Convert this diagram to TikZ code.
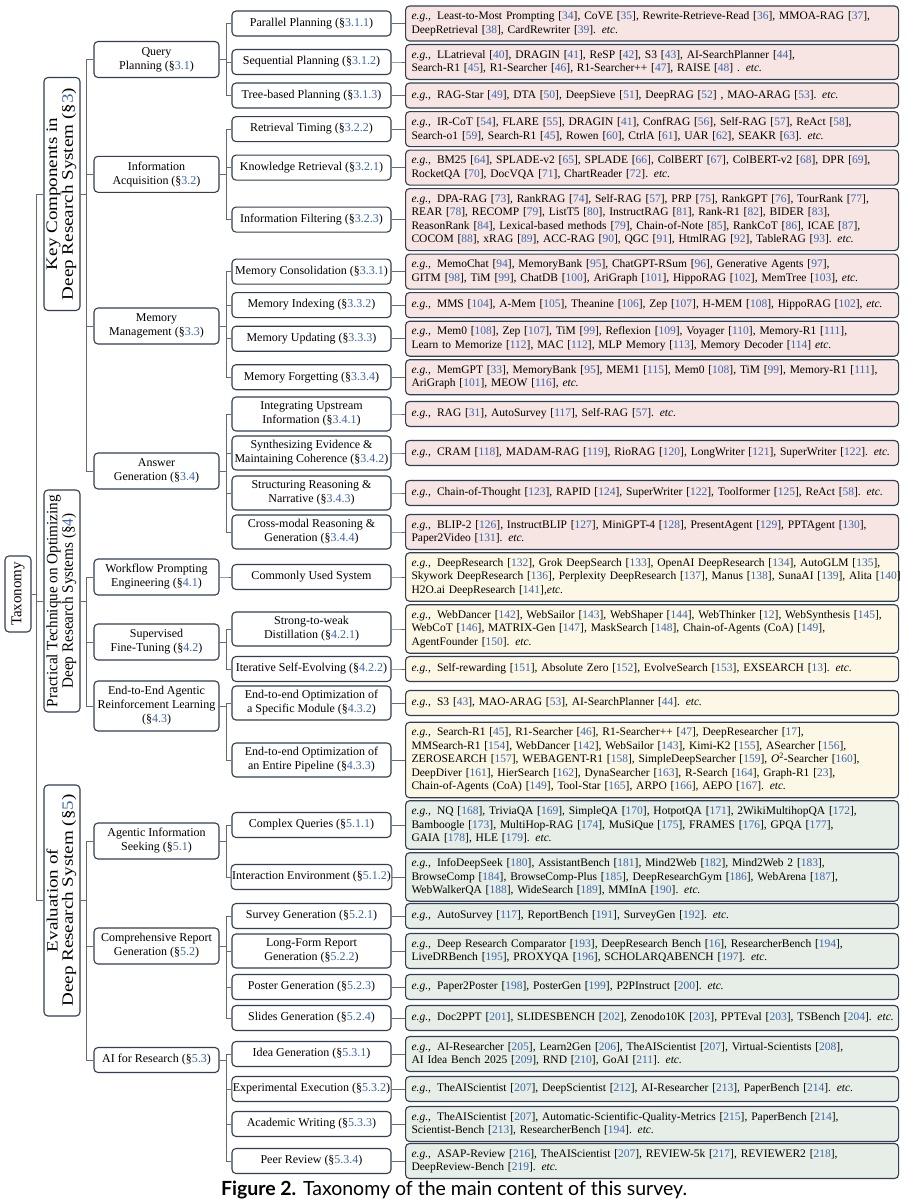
\documentclass[tikz,border=0pt]{standalone}
\usepackage{graphicx}
\usepackage{fontspec}
\setmainfont{Liberation Serif}
\newfontfamily\capfont{Lato}
\definecolor{refblue}{RGB}{58,102,170}
\definecolor{bordc}{RGB}{52,62,82}
\definecolor{linec}{RGB}{105,105,105}
\definecolor{pinkf}{RGB}{246,229,227}
\definecolor{yellf}{RGB}{253,247,230}
\definecolor{greenf}{RGB}{231,238,231}
\newcommand\rf[1]{[\textcolor{refblue}{#1}]}
\newcommand\sct[1]{(\S\textcolor{refblue}{#1})}
\newcommand\eg{\textit{e.g.,}\hspace{6pt}}
\newcommand\etcx{\textit{etc.}}
\newcommand\lne[1]{\makebox[0pt][l]{#1}}
\newcommand\vlab[2]{\resizebox*{212pt}{31pt}{\renewcommand\arraystretch{0.82}\begin{tabular}{@{}c@{}}#1\\#2\end{tabular}}}
\begin{document}
\begin{tikzpicture}[x=1pt,y=-1pt,
 box/.style={draw=bordc, line width=1.1pt, rounded corners=4pt, fill=white, inner ysep=0pt, font=\fontsize{12}{14}\selectfont},
 lone/.style={box, rotate=90, minimum height=36pt, inner xsep=1pt, align=center},
 ltwo/.style={box, minimum width=125pt, minimum height=36pt, inner xsep=2pt, align=center},
 lthree/.style={box, minimum width=159pt, minimum height=25pt, inner xsep=1pt, align=center},
 lthreeb/.style={lthree, minimum height=34pt},
 leaf/.style={box, anchor=west, text width=481pt, inner xsep=6pt, align=left, font=\fontsize{11.5}{13.5}\selectfont},
 pk/.style={leaf, fill=pinkf}, yl/.style={leaf, fill=yellf}, gr/.style={leaf, fill=greenf},
 conn/.style={draw=linec, line width=1pt}
]
\fill[white] (0,0) rectangle (909,1200);
\useasboundingbox (0,0) rectangle (909,1200);

% root and level 1
\node[box, rotate=90, minimum width=76pt, minimum height=26pt, inner xsep=1pt, font=\fontsize{15}{17}\selectfont] (root) at (18,594) {Taxonomy};
\node[lone, minimum width=233pt] (k1) at (62,194) {\vlab{Key Components in}{Deep Research System \sct{3}}};
\node[lone, minimum width=222pt] (k2) at (62,601) {\vlab{Practical Technique on Optimizing}{Deep Research Systems \sct{4}}};
\node[lone, minimum width=231pt] (k3) at (62,900.5) {\vlab{Evaluation of}{Deep Research System \sct{5}}};

% level 2
\node[ltwo] (a1) at (156.5,59.5) {Query\\Planning \sct{3.1}};
\node[ltwo] (a2) at (156.5,174.3) {Information\\Acquisition \sct{3.2}};
\node[ltwo] (a3) at (156.5,326) {Memory\\Management \sct{3.3}};
\node[ltwo] (a4) at (156.5,471) {Answer\\Generation \sct{3.4}};
\node[ltwo] (b1) at (156.5,577) {Workflow Prompting\\Engineering \sct{4.1}};
\node[ltwo] (b2) at (156.5,642) {Supervised\\Fine-Tuning \sct{4.2}};
\node[ltwo, minimum height=50pt] (b3) at (156.5,706) {End-to-End Agentic\\Reinforcement Learning\\\sct{4.3}};
\node[ltwo] (c1) at (156.5,841) {Agentic Information\\Seeking \sct{5.1}};
\node[ltwo] (c2) at (156.5,946) {Comprehensive Report\\Generation \sct{5.2}};
\node[ltwo, minimum height=25pt] (c3) at (156.5,1060) {AI for Research \sct{5.3}};

% level 3
\node[lthree] (r1) at (311.5,23.5) {Parallel Planning \sct{3.1.1}};
\node[lthree] (r2) at (311.5,62.0) {Sequential Planning \sct{3.1.2}};
\node[lthree] (r3) at (311.5,95.5) {Tree-based Planning \sct{3.1.3}};
\node[lthree] (r4) at (311.5,129.1) {Retrieval Timing \sct{3.2.2}};
\node[lthree] (r5) at (311.5,167.6) {Knowledge Retrieval \sct{3.2.1}};
\node[lthree] (r6) at (311.5,219.6) {Information Filtering \sct{3.2.3}};
\node[lthree] (r7) at (311.5,271.6) {Memory Consolidation \sct{3.3.1}};
\node[lthree] (r8) at (311.5,305.1) {Memory Indexing \sct{3.3.2}};
\node[lthree] (r9) at (311.5,338.7) {Memory Updating \sct{3.3.3}};
\node[lthree] (r10) at (311.5,377.2) {Memory Forgetting \sct{3.3.4}};
\node[lthreeb] (r11) at (311.5,414) {Integrating Upstream\\Information \sct{3.4.1}};
\node[lthreeb] (r12) at (311.5,453) {Synthesizing Evidence \&\\Maintaining Coherence \sct{3.4.2}};
\node[lthreeb] (r13) at (311.5,493) {Structuring Reasoning \&\\Narrative \sct{3.4.3}};
\node[lthreeb] (r14) at (311.5,532) {Cross-modal Reasoning \&\\Generation \sct{3.4.4}};
\node[lthree] (r15) at (311.5,577) {Commonly Used System};
\node[lthreeb] (r16) at (311.5,629) {Strong-to-weak\\Distillation \sct{4.2.1}};
\node[lthree] (r17) at (311.5,669) {Iterative Self-Evolving \sct{4.2.2}};
\node[lthreeb] (r18) at (311.5,703) {End-to-end Optimization of\\a Specific Module \sct{4.3.2}};
\node[lthreeb] (r19) at (311.5,760) {End-to-end Optimization of\\an Entire Pipeline \sct{4.3.3}};
\node[lthree] (r20) at (311.5,825) {Complex Queries \sct{5.1.1}};
\node[lthree] (r21) at (311.5,877) {Interaction Environment \sct{5.1.2}};
\node[lthree] (r22) at (311.5,916) {Survey Generation \sct{5.2.1}};
\node[lthreeb] (r23) at (311.5,951) {Long-Form Report\\Generation \sct{5.2.2}};
\node[lthree] (r24) at (311.5,987) {Poster Generation \sct{5.2.3}};
\node[lthree] (r25) at (311.5,1018) {Slides Generation \sct{5.2.4}};
\node[lthree] (r26) at (311.5,1054) {Idea Generation \sct{5.3.1}};
\node[lthree] (r27) at (311.5,1089) {Experimental Execution \sct{5.3.2}};
\node[lthree] (r28) at (311.5,1124) {Academic Writing \sct{5.3.3}};
\node[lthree] (r29) at (311.5,1161) {Peer Review \sct{5.3.4}};

% leaves
\node[pk, minimum height=35pt] (e1) at (405,23.5) {\lne{\eg Least-to-Most Prompting \rf{34}, CoVE \rf{35}, Rewrite-Retrieve-Read \rf{36}, MMOA-RAG \rf{37},}\\\lne{DeepRetrieval \rf{38}, CardRewriter \rf{39}. \etcx}};
\node[pk, minimum height=35pt] (e2) at (405,62.0) {\lne{\eg LLatrieval \rf{40}, DRAGIN \rf{41}, ReSP \rf{42}, S3 \rf{43}, AI-SearchPlanner \rf{44},}\\\lne{Search-R1 \rf{45}, R1-Searcher \rf{46}, R1-Searcher++ \rf{47}, RAISE \rf{48} . \etcx}};
\node[pk, minimum height=25pt] (e3) at (405,95.5) {\lne{\eg RAG-Star \rf{49}, DTA \rf{50}, DeepSieve \rf{51}, DeepRAG \rf{52} , MAO-ARAG \rf{53}. \etcx}};
\node[pk, minimum height=35pt] (e4) at (405,129.1) {\lne{\eg IR-CoT \rf{54}, FLARE \rf{55}, DRAGIN \rf{41}, ConfRAG \rf{56}, Self-RAG \rf{57}, ReAct \rf{58},}\\\lne{Search-o1 \rf{59}, Search-R1 \rf{45}, Rowen \rf{60}, CtrlA \rf{61}, UAR \rf{62}, SEAKR \rf{63}. \etcx}};
\node[pk, minimum height=35pt] (e5) at (405,167.6) {\lne{\eg BM25 \rf{64}, SPLADE-v2 \rf{65}, SPLADE \rf{66}, ColBERT \rf{67}, ColBERT-v2 \rf{68}, DPR \rf{69},}\\\lne{RocketQA \rf{70}, DocVQA \rf{71}, ChartReader \rf{72}. \etcx}};
\node[pk, minimum height=62pt] (e6) at (405,219.6) {\lne{\eg DPA-RAG \rf{73}, RankRAG \rf{74}, Self-RAG \rf{57}, PRP \rf{75}, RankGPT \rf{76}, TourRank \rf{77},}\\\lne{REAR \rf{78}, RECOMP \rf{79}, ListT5 \rf{80}, InstructRAG \rf{81}, Rank-R1 \rf{82}, BIDER \rf{83},}\\\lne{ReasonRank \rf{84}, Lexical-based methods \rf{79}, Chain-of-Note \rf{85}, RankCoT \rf{86}, ICAE \rf{87},}\\\lne{COCOM \rf{88}, xRAG \rf{89}, ACC-RAG \rf{90}, QGC \rf{91}, HtmlRAG \rf{92}, TableRAG \rf{93}. \etcx}};
\node[pk, minimum height=35pt] (e7) at (405,271.6) {\lne{\eg MemoChat \rf{94}, MemoryBank \rf{95}, ChatGPT-RSum \rf{96}, Generative Agents \rf{97},}\\\lne{GITM \rf{98}, TiM \rf{99}, ChatDB \rf{100}, AriGraph \rf{101}, HippoRAG \rf{102}, MemTree \rf{103}, \etcx}};
\node[pk, minimum height=25pt] (e8) at (405,305.1) {\lne{\eg MMS \rf{104}, A-Mem \rf{105}, Theanine \rf{106}, Zep \rf{107}, H-MEM \rf{108}, HippoRAG \rf{102}, \etcx}};
\node[pk, minimum height=35pt] (e9) at (405,338.7) {\lne{\eg Mem0 \rf{108}, Zep \rf{107}, TiM \rf{99}, Reflexion \rf{109}, Voyager \rf{110}, Memory-R1 \rf{111},}\\\lne{Learn to Memorize \rf{112}, MAC \rf{112}, MLP Memory \rf{113}, Memory Decoder \rf{114} \etcx}};
\node[pk, minimum height=35pt] (e10) at (405,377.2) {\lne{\eg MemGPT \rf{33}, MemoryBank \rf{95}, MEM1 \rf{115}, Mem0 \rf{108}, TiM \rf{99}, Memory-R1 \rf{111},}\\\lne{AriGraph \rf{101}, MEOW \rf{116}, \etcx}};
\node[pk, minimum height=25pt] (e11) at (405,414) {\lne{\eg RAG \rf{31}, AutoSurvey \rf{117}, Self-RAG \rf{57}. \etcx}};
\node[pk, minimum height=25pt] (e12) at (405,453) {\lne{\eg CRAM \rf{118}, MADAM-RAG \rf{119}, RioRAG \rf{120}, LongWriter \rf{121}, SuperWriter \rf{122}. \etcx}};
\node[pk, minimum height=25pt] (e13) at (405,493) {\lne{\eg Chain-of-Thought \rf{123}, RAPID \rf{124}, SuperWriter \rf{122}, Toolformer \rf{125}, ReAct \rf{58}. \etcx}};
\node[pk, minimum height=35pt] (e14) at (405,532) {\lne{\eg BLIP-2 \rf{126}, InstructBLIP \rf{127}, MiniGPT-4 \rf{128}, PresentAgent \rf{129}, PPTAgent \rf{130},}\\\lne{Paper2Video \rf{131}. \etcx}};
\node[yl, minimum height=48.5pt] (e15) at (405,577) {\lne{\eg DeepResearch \rf{132}, Grok DeepSearch \rf{133}, OpenAI DeepResearch \rf{134}, AutoGLM \rf{135},}\\\lne{Skywork DeepResearch \rf{136}, Perplexity DeepResearch \rf{137}, Manus \rf{138}, SunaAI \rf{139}, Alita \rf{140}}\\\lne{H2O.ai DeepResearch \rf{141},\etcx}};
\node[yl, minimum height=48.5pt] (e16) at (405,629) {\lne{\eg WebDancer \rf{142}, WebSailor \rf{143}, WebShaper \rf{144}, WebThinker \rf{12}, WebSynthesis \rf{145},}\\\lne{WebCoT \rf{146}, MATRIX-Gen \rf{147}, MaskSearch \rf{148}, Chain-of-Agents (CoA) \rf{149},}\\\lne{AgentFounder \rf{150}. \etcx}};
\node[yl, minimum height=25pt] (e17) at (405,669) {\lne{\eg Self-rewarding \rf{151}, Absolute Zero \rf{152}, EvolveSearch \rf{153}, EXSEARCH \rf{13}. \etcx}};
\node[yl, minimum height=25pt] (e18) at (405,703) {\lne{\eg S3 \rf{43}, MAO-ARAG \rf{53}, AI-SearchPlanner \rf{44}. \etcx}};
\node[yl, minimum height=75.5pt] (e19) at (405,760) {\lne{\eg Search-R1 \rf{45}, R1-Searcher \rf{46}, R1-Searcher++ \rf{47}, DeepResearcher \rf{17},}\\\lne{MMSearch-R1 \rf{154}, WebDancer \rf{142}, WebSailor \rf{143}, Kimi-K2 \rf{155}, ASearcher \rf{156},}\\\lne{ZEROSEARCH \rf{157}, WEBAGENT-R1 \rf{158}, SimpleDeepSearcher \rf{159}, \textit{O}\textsuperscript{2}-Searcher \rf{160},}\\\lne{DeepDiver \rf{161}, HierSearch \rf{162}, DynaSearcher \rf{163}, R-Search \rf{164}, Graph-R1 \rf{23},}\\\lne{Chain-of-Agents (CoA) \rf{149}, Tool-Star \rf{165}, ARPO \rf{166}, AEPO \rf{167}. \etcx}};
\node[gr, minimum height=48.5pt] (e20) at (405,825) {\lne{\eg NQ \rf{168}, TriviaQA \rf{169}, SimpleQA \rf{170}, HotpotQA \rf{171}, 2WikiMultihopQA \rf{172},}\\\lne{Bamboogle \rf{173}, MultiHop-RAG \rf{174}, MuSiQue \rf{175}, FRAMES \rf{176}, GPQA \rf{177},}\\\lne{GAIA \rf{178}, HLE \rf{179}. \etcx}};
\node[gr, minimum height=48.5pt] (e21) at (405,877) {\lne{\eg InfoDeepSeek \rf{180}, AssistantBench \rf{181}, Mind2Web \rf{182}, Mind2Web 2 \rf{183},}\\\lne{BrowseComp \rf{184}, BrowseComp-Plus \rf{185}, DeepResearchGym \rf{186}, WebArena \rf{187},}\\\lne{WebWalkerQA \rf{188}, WideSearch \rf{189}, MMInA \rf{190}. \etcx}};
\node[gr, minimum height=25pt] (e22) at (405,916) {\lne{\eg AutoSurvey \rf{117}, ReportBench \rf{191}, SurveyGen \rf{192}. \etcx}};
\node[gr, minimum height=35pt] (e23) at (405,951) {\lne{\eg Deep Research Comparator \rf{193}, DeepResearch Bench \rf{16}, ResearcherBench \rf{194},}\\\lne{LiveDRBench \rf{195}, PROXYQA \rf{196}, SCHOLARQABENCH \rf{197}. \etcx}};
\node[gr, minimum height=25pt] (e24) at (405,987) {\lne{\eg Paper2Poster \rf{198}, PosterGen \rf{199}, P2PInstruct \rf{200}. \etcx}};
\node[gr, minimum height=25pt] (e25) at (405,1018) {\lne{\eg Doc2PPT \rf{201}, SLIDESBENCH \rf{202}, Zenodo10K \rf{203}, PPTEval \rf{203}, TSBench \rf{204}. \etcx}};
\node[gr, minimum height=35pt] (e26) at (405,1054) {\lne{\eg AI-Researcher \rf{205}, Learn2Gen \rf{206}, TheAIScientist \rf{207}, Virtual-Scientists \rf{208},}\\\lne{AI Idea Bench 2025 \rf{209}, RND \rf{210}, GoAI \rf{211}. \etcx}};
\node[gr, minimum height=25pt] (e27) at (405,1089) {\lne{\eg TheAIScientist \rf{207}, DeepScientist \rf{212}, AI-Researcher \rf{213}, PaperBench \rf{214}. \etcx}};
\node[gr, minimum height=35pt] (e28) at (405,1124) {\lne{\eg TheAIScientist \rf{207}, Automatic-Scientific-Quality-Metrics \rf{215}, PaperBench \rf{214},}\\\lne{Scientist-Bench \rf{213}, ResearcherBench \rf{194}. \etcx}};
\node[gr, minimum height=35pt] (e29) at (405,1161) {\lne{\eg ASAP-Review \rf{216}, TheAIScientist \rf{207}, REVIEW-5k \rf{217}, REVIEWER2 \rf{218},}\\\lne{DeepReview-Bench \rf{219}. \etcx}};

% caption
\node[font=\capfont\fontsize{19.5}{22}\selectfont] (cap) at (454,1190) {\textbf{Figure 2.} Taxonomy of the main content of this survey.};

% connectors
\foreach \c in {k1,k2,k3} \draw[conn] (root.south) -- ++(5,0) |- (\c.north);
\foreach \c in {a1,a2,a3,a4} \draw[conn] (k1.south) -- ++(6,0) |- (\c.west);
\foreach \c in {b1,b2,b3} \draw[conn] (k2.south) -- ++(6,0) |- (\c.west);
\foreach \c in {c1,c2,c3} \draw[conn] (k3.south) -- ++(6,0) |- (\c.west);
\foreach \p/\c in {a1/r1,a1/r2,a1/r3,a2/r4,a2/r5,a2/r6,a3/r7,a3/r8,a3/r9,a3/r10,a4/r11,a4/r12,a4/r13,a4/r14,b1/r15,b2/r16,b2/r17,b3/r18,b3/r19,c1/r20,c1/r21,c2/r22,c2/r23,c2/r24,c2/r25,c3/r26,c3/r27,c3/r28,c3/r29}
  \draw[conn] (\p.east) -- ++(7,0) |- (\c.west);
\foreach \i in {1,...,29} \draw[conn] (r\i.east) -- ++(7,0) |- (e\i.west);
\end{tikzpicture}
\end{document}
